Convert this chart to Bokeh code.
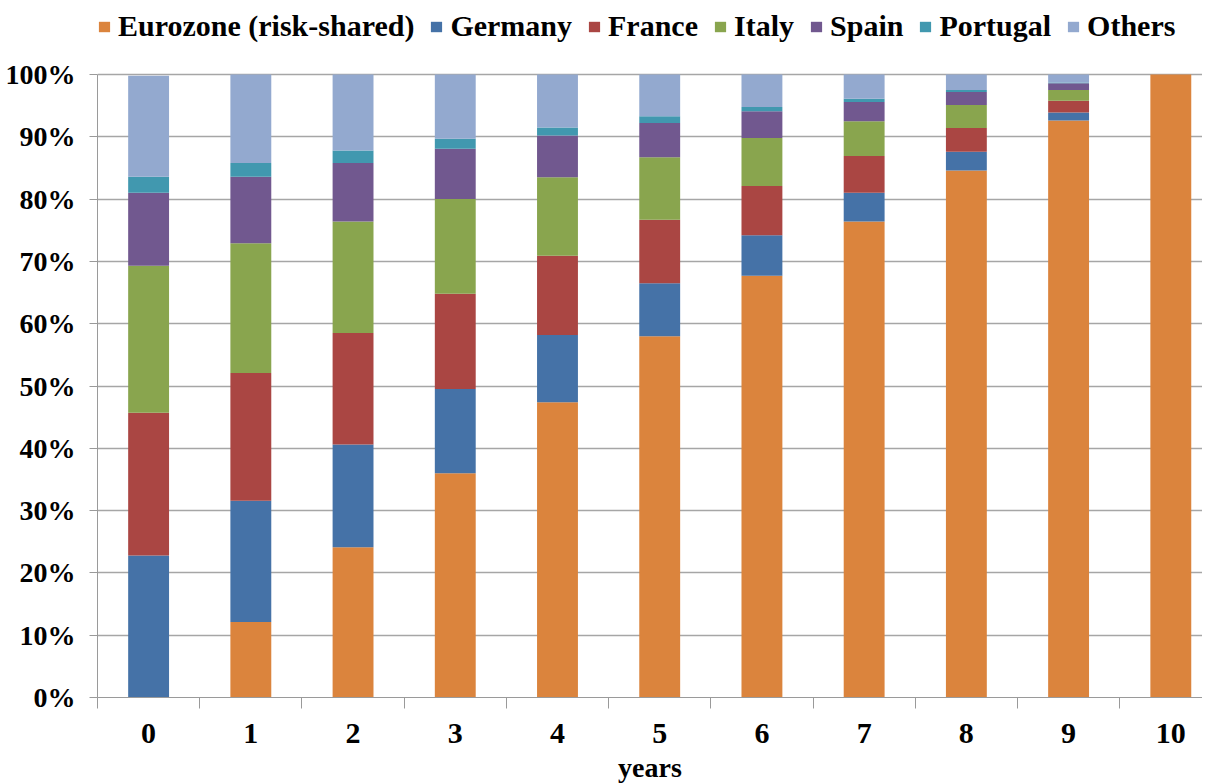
from bokeh.plotting import figure
from bokeh.models import (Range1d, FixedTicker, Legend, LegendItem, NumeralTickFormatter,
                          ColumnDataSource)
from bokeh.embed import file_html
from bokeh.resources import INLINE

years = [0, 1, 2, 3, 4, 5, 6, 7, 8, 9, 10]
series = ["Eurozone (risk-shared)", "Germany", "France", "Italy", "Spain", "Portugal", "Others"]
colors = ["#DB843D", "#4572A7", "#AA4643", "#89A54E", "#71588F", "#4198AF", "#93A9CF"]

eurozone = [0.0, 12.1, 24.1, 36.0, 47.4, 58.0, 67.7, 76.4, 84.6, 92.6, 100.0]
germany  = [22.8, 19.5, 16.5, 13.5, 10.8, 8.5, 6.5, 4.6, 3.0, 1.3, 0.0]
france   = [22.9, 20.5, 17.9, 15.3, 12.7, 10.2, 7.9, 5.9, 3.8, 1.9, 0.0]
italy    = [23.6, 20.8, 17.9, 15.2, 12.6, 10.0, 7.7, 5.6, 3.7, 1.7, 0.0]
spain    = [11.7, 10.7, 9.4, 8.1, 6.7, 5.5, 4.3, 3.1, 2.1, 1.1, 0.0]
portugal = [2.6, 2.2, 2.0, 1.6, 1.3, 1.1, 0.7, 0.5, 0.3, 0.1, 0.0]
others   = [16.2, 14.2, 12.2, 10.3, 8.5, 6.7, 5.2, 3.9, 2.5, 1.3, 0.0]

y_ticks = [0, 0.1, 0.2, 0.3, 0.4, 0.5, 0.6, 0.7, 0.8, 0.9, 1.0]

values = [eurozone, germany, france, italy, spain, portugal, others]
data = {"x": years}
for name, vals in zip(series, values):
    data[name] = [v / 100.0 for v in vals]
source = ColumnDataSource(data)

FONT = "Liberation Serif"

# frame extends above 100% to host the legend (623 px per 100%)
p = figure(frame_width=1105, frame_height=697, output_backend="svg", toolbar_location=None,
           x_range=Range1d(-0.5, 10.31), y_range=Range1d(0, 697 / 623),
           min_border_left=97, min_border_right=0, min_border_top=0, min_border_bottom=20)
p.outline_line_color = None
p.background_fill_color = "white"

renderers = p.vbar_stack(series, x="x", width=0.4, source=source, color=colors,
                         line_color=None)

# axes
p.xaxis.ticker = FixedTicker(ticks=years, minor_ticks=[i - 0.5 for i in range(11)])
p.xaxis.major_tick_out = 0
p.xaxis.major_tick_in = 0
p.xaxis.minor_tick_out = 11
p.xaxis.minor_tick_in = 0
p.xaxis.minor_tick_line_color = "#9a9a9a"
p.xaxis.axis_line_color = "#9a9a9a"
p.xaxis.major_label_standoff = 15
p.xaxis.axis_label = "years"
p.xaxis.axis_label_standoff = 6

p.yaxis.ticker = FixedTicker(ticks=y_ticks)
p.yaxis.bounds = (0, 1)
p.yaxis.formatter = NumeralTickFormatter(format="0%")
p.yaxis.major_tick_out = 8
p.yaxis.major_tick_in = 0
p.yaxis.minor_tick_line_color = None
p.yaxis.major_tick_line_color = "#9a9a9a"
p.yaxis.axis_line_color = "#9a9a9a"
p.yaxis.major_label_standoff = 14

for ax in (p.xaxis[0], p.yaxis[0]):
    ax.major_label_text_font = FONT
    ax.major_label_text_font_style = "bold"
    ax.major_label_text_color = "black"
    ax.axis_label_text_font = FONT
    ax.axis_label_text_font_style = "bold"
    ax.axis_label_text_color = "black"
p.xaxis.major_label_text_font_size = "30px"
p.yaxis.major_label_text_font_size = "28px"
p.xaxis.axis_label_text_font_size = "28px"

p.xgrid.grid_line_color = None
p.ygrid.grid_line_color = "#a6a6a6"
p.ygrid.grid_line_width = 1.5
p.ygrid.ticker = FixedTicker(ticks=y_ticks)

legend = Legend(items=[LegendItem(label=s, renderers=[r]) for s, r in zip(series, renderers)],
                orientation="horizontal", location=(0, 654))
legend.label_text_font = FONT
legend.label_text_font_style = "bold"
legend.label_text_font_size = "30px"
legend.label_text_color = "black"
legend.glyph_width = 14
legend.glyph_height = 13
legend.label_standoff = 7
legend.spacing = 15
legend.padding = 0
legend.margin = 0
legend.border_line_color = None
legend.background_fill_alpha = 0
p.add_layout(legend, "center")

open("out.html", "w").write(file_html(p, INLINE))
